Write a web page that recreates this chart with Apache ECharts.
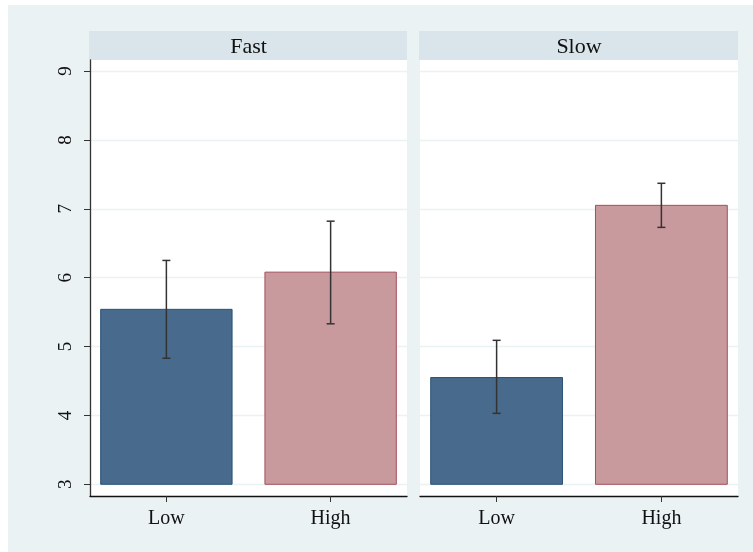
<!DOCTYPE html>
<html>
<head>
<meta charset="utf-8">
<script src="https://cdn.jsdelivr.net/npm/echarts@6/dist/echarts.min.js"></script>
<style>
html,body{margin:0;padding:0;background:#ffffff;}
#c{position:absolute;left:8px;top:5px;width:745px;height:547px;}
</style>
</head>
<body>
<div id="c"></div>
<script>
// ---- data ----
var groups = ['Fast', 'Slow'];
var categories = ['Low', 'High'];
var meansFast = [5.54, 6.08];
var meansSlow = [4.55, 7.05];
var lowerFast = [4.83, 5.33];
var lowerSlow = [4.03, 6.73];
var upperFast = [6.25, 6.82];
var upperSlow = [5.09, 7.37];
var yTicks = [3, 4, 5, 6, 7, 8, 9];
var barBase = 3;

var means = [meansFast, meansSlow];
var lowers = [lowerFast, lowerSlow];
var uppers = [upperFast, upperSlow];

var FONT = 'Liberation Serif';
var fills = ['#486a8c', '#c8999d'];
var borders = ['#2b5277', '#a4505a'];

var chart = echarts.init(document.getElementById('c'), null, {renderer: 'canvas'});

var grids = [
  {left: 82, top: 55, width: 317, height: 436},
  {left: 412, top: 55, width: 318, height: 436}
];

function renderBar(params, api) {
  var x = api.value(0);
  var v = api.value(1);
  var lo = api.value(2);
  var hi = api.value(3);
  var ci = api.value(4);
  var p0 = api.coord([x - 0.4, barBase]);
  var p1 = api.coord([x + 0.4, v]);
  var e0 = api.coord([x, lo]);
  var e1 = api.coord([x, hi]);
  var cap = 4;
  var es = {stroke: '#333333', lineWidth: 1.5};
  return {
    type: 'group',
    children: [
      {type: 'rect', shape: {x: p0[0], y: p1[1], width: p1[0] - p0[0], height: p0[1] - p1[1]},
       style: {fill: fills[ci], stroke: borders[ci], lineWidth: 1}},
      {type: 'line', shape: {x1: e0[0], y1: e0[1], x2: e1[0], y2: e1[1]}, style: es},
      {type: 'line', shape: {x1: e0[0] - cap, y1: e0[1], x2: e0[0] + cap, y2: e0[1]}, style: es},
      {type: 'line', shape: {x1: e1[0] - cap, y1: e1[1], x2: e1[0] + cap, y2: e1[1]}, style: es}
    ]
  };
}

var xAxes = [], yAxes = [], series = [], graphics = [];
for (var g = 0; g < groups.length; g++) {
  xAxes.push({
    type: 'value', gridIndex: g, min: 0.535, max: 2.465,
    axisLine: {show: true, lineStyle: {color: '#111111', width: 1.3}},
    axisTick: {show: true, length: 6, customValues: [1, 2], lineStyle: {color: '#333333'}},
    axisLabel: {show: true, customValues: [1, 2], margin: 13, color: '#111111',
      fontFamily: FONT, fontSize: 20,
      formatter: function (val) { return categories[Math.round(val) - 1] || ''; }},
    splitLine: {show: false}
  });
  yAxes.push({
    type: 'value', gridIndex: g, min: 2.83, max: 9.16,
    axisLine: {show: g === 0, lineStyle: {color: '#333333', width: 1.3}},
    axisTick: {show: g === 0, length: 6, customValues: yTicks, lineStyle: {color: '#333333'}},
    axisLabel: {show: g === 0, customValues: yTicks, rotate: 90, margin: 14, color: '#111111',
      fontFamily: FONT, fontSize: 19},
    splitLine: {show: true, lineStyle: {color: '#eaf2f3', width: 1.3}}
  });
  var data = [];
  for (var i = 0; i < categories.length; i++) {
    data.push([i + 1, means[g][i], lowers[g][i], uppers[g][i], i]);
  }
  series.push({
    type: 'custom', xAxisIndex: g, yAxisIndex: g, renderItem: renderBar, data: data,
    encode: {x: 0, y: [1, 2, 3]}, clip: false
  });
  graphics.push({
    type: 'rect', left: grids[g].left - 1, top: 26,
    shape: {width: grids[g].width + 1, height: 29},
    style: {fill: '#d9e5eb'}
  });
  graphics.push({
    type: 'text',
    x: grids[g].left + grids[g].width / 2, y: 42,
    style: {text: groups[g], fill: '#111111', font: '22px "Liberation Serif"',
      textAlign: 'center', textVerticalAlign: 'middle'}
  });
}

chart.setOption({
  backgroundColor: '#eaf2f3',
  animation: false,
  grid: grids.map(function (gr) {
    return {left: gr.left, top: gr.top, width: gr.width, height: gr.height,
      show: true, backgroundColor: '#ffffff', borderWidth: 0, containLabel: false};
  }),
  xAxis: xAxes,
  yAxis: yAxes,
  series: series,
  graphic: graphics
});
</script>
</body>
</html>
